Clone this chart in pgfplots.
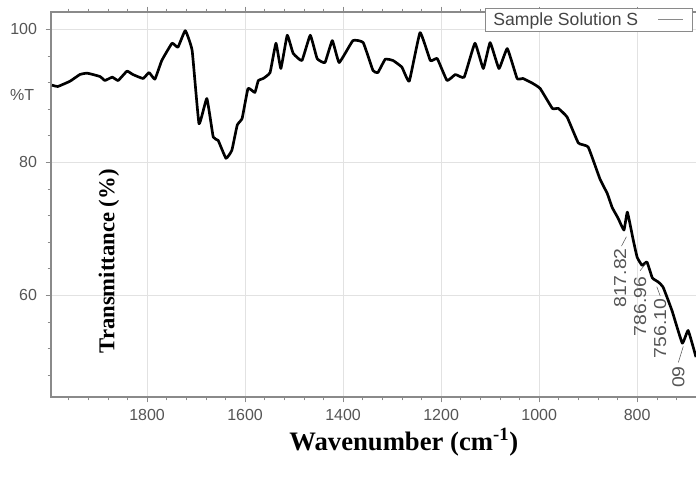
\documentclass[border=0pt]{standalone}
\usepackage{graphicx}
\usepackage{pgfplots}
\pgfplotsset{compat=1.18}
\usepackage{fontspec}
\setmainfont{Liberation Sans}
\newfontfamily\timesfont{Liberation Serif}
\definecolor{tickgray}{HTML}{555555}
\definecolor{legtext}{HTML}{444444}
\definecolor{gridgray}{HTML}{E2E2E2}
\definecolor{framegray}{HTML}{8A8A8A}
\begin{document}
\begin{tikzpicture}
\path[use as bounding box] (-38.25pt,-64.5pt) rectangle (483.75pt,297.75pt);
\begin{axis}[
  scale only axis,
  width=483.75pt, height=288.75pt,
  x dir=reverse,
  xmin=680, xmax=1996,
  ymin=44.7, ymax=102.6,
  clip=false,
  axis line style={draw=none},
  xtick={800,1000,1200,1400,1600,1800},
  ytick={60,80,100},
  minor xtick={840,880,920,960,1040,1080,1120,1160,1240,1280,1320,1360,1440,1480,1520,1560,1640,1680,1720,1760,1840,1880,1920,1960,720,760},
  minor ytick={48,52,56,64,68,72,76,84,88,92,96},
  tick align=outside,
  major tick length=4pt,
  minor tick length=2.5pt,
  tick style={framegray, thin},
  xmajorgrids, ymajorgrids,
  grid style={gridgray, line width=0.6pt},
  /pgf/number format/assume math mode=true,
  /pgf/number format/1000 sep={},
  ticklabel style={font=\fontsize{12}{14}\selectfont, text=tickgray},
  xticklabel style={yshift=-2pt},
  yticklabel style={xshift=-3pt},
  legend plot pos=right,
  legend style={at={(axis description cs:0.9953,1.0104)}, anchor=north east,
    draw=framegray, line width=0.6pt, font=\fontsize{13.2}{15}\selectfont, text=legtext,
    inner xsep=4pt, inner ysep=1pt, row sep=0pt},
]
\draw[framegray, line width=0.8pt] (rel axis cs:1.01,1) -- (rel axis cs:0,1) -- (rel axis cs:0,0) -- (rel axis cs:1.01,0);
\addlegendimage{legend image code/.code={\path (0cm,0cm); \draw[framegray, line width=0.6pt] (0.45cm,0cm) -- (1.1cm,0cm); \path (1.2cm,0cm);}}
\addlegendentry{Sample Solution S}
\addplot[black, line width=2pt, line join=round, smooth, tension=0.2, forget plot] coordinates {
(1994,91.6) (1982,91.4) (1957,92.2) (1937,93.2) (1922,93.4) (1896,92.9)
(1886,92.3) (1871,92.8) (1859,92.3) (1841,93.7) (1829,93.2) (1808,92.6)
(1796,93.5) (1784,92.5) (1770,95.3) (1749,97.9) (1737,97.3) (1722,99.8)
(1708,96.8) (1694,85.8) (1678,89.6) (1665,83.8) (1655,83.3) (1639,80.6)
(1627,81.8) (1616,85.6) (1606,86.6) (1594,91.1) (1580,90.5) (1573,92.3)
(1563,92.6) (1549,93.5) (1537,97.9) (1527,94.1) (1514,99.1) (1502,96.4)
(1484,95.3) (1467,99.1) (1453,95.6) (1437,95.0) (1422,98.3) (1408,95.0)
(1380,98.3) (1359,98.0) (1339,93.8) (1329,93.5) (1314,95.5) (1298,95.3)
(1280,94.3) (1265,92.2) (1243,99.5) (1222,95.3) (1208,95.6) (1188,92.3)
(1171,93.2) (1153,92.8) (1131,97.9) (1114,94.1) (1100,98.0) (1082,94.1)
(1065,97.1) (1045,92.6) (1033,92.6) (1014,91.9) (998,91.1) (973,88.1)
(961,88.1) (943,86.8) (920,82.9) (900,82.3) (876,77.5) (861,75.3)
(851,73.2) (839,71.6) (827,69.8) (820,72.5) (808,68.3) (800,65.7)
(790,64.5) (780,65.0) (769,62.6) (757,62.0) (747,61.2) (729,57.7)
(708,52.8) (696,54.7) (680,50.7)
};
% peak labels
\begin{scope}[every node/.style={font=\fontsize{13}{15}\selectfont, text=tickgray, rotate=90, inner sep=0pt}]
\node at (axis cs:834.7,62.6) {\scalebox{1.12}[1]{817.82}};
\node at (axis cs:794,58.3) {\scalebox{1.12}[1]{786.96}};
\node at (axis cs:753,55.0) {\scalebox{1.12}[1]{756.10}};
\node at (axis cs:716,47.7) {\scalebox{1.12}[1]{09}};
\end{scope}
\draw[tickgray, line width=0.4pt] (axis cs:832,67.4) -- (axis cs:822,68.8);
\draw[tickgray, line width=0.4pt] (axis cs:794,63.7) -- (axis cs:782,64.8);
\draw[tickgray, line width=0.4pt] (axis cs:753,59.9) -- (axis cs:760,61.3);
\draw[tickgray, line width=0.4pt] (axis cs:716,49.9) -- (axis cs:706,52.3);
% other labels
\node[font=\fontsize{12}{14}\selectfont, text=tickgray] at (axis cs:2055,90.1) {\%T};
\node[rotate=90, font=\timesfont\bfseries\fontsize{17}{20}\selectfont] at (axis cs:1878,65.1) {Transmittance (\%)};
\node[font=\timesfont\bfseries\fontsize{20}{24}\selectfont] at (axis description cs:0.547,-0.118) {Wavenumber (cm\textsuperscript{-1})};
\end{axis}
\end{tikzpicture}
\end{document}
